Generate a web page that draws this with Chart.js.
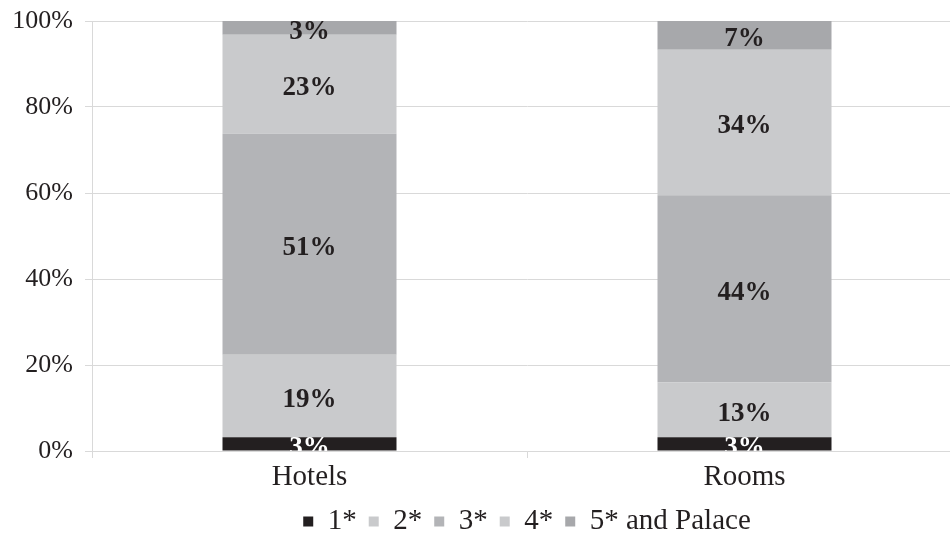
<!DOCTYPE html>
<html>
<head>
<meta charset="utf-8">
<script src="https://cdn.jsdelivr.net/npm/chart.js@4/dist/chart.umd.min.js"></script>
<style>
    html, body { margin: 0; padding: 0; background: #fff; overflow: hidden; }
    #wrap { width: 965px; height: 546px; }
</style>
</head>
<body>
<div id="wrap"><canvas id="chart" width="965" height="546"></canvas></div>
<script>
// Data
const categories = ['Hotels', 'Rooms'];
const seriesNames = ['1*', '2*', '3*', '4*', '5* and Palace'];
const oneStar = [3.2, 3.2];
const twoStar = [19.2, 12.8];
const threeStar = [51.4, 43.5];
const fourStar = [23.0, 33.8];
const fivePalace = [3.2, 6.7];
const yTicks = [0, 20, 40, 60, 80, 100];

const colors = ['#231f20', '#c9cacc', '#b3b4b7', '#c9cacc', '#a7a8ab'];
const labelColors = ['#ffffff', '#231f20', '#231f20', '#231f20', '#231f20'];
const seriesValues = [oneStar, twoStar, threeStar, fourStar, fivePalace];

const serif = "'Liberation Serif', 'Times New Roman', serif";

// Draws rounded percentages in the middle of each segment
const segmentLabels = {
    id: 'segmentLabels',
    afterDatasetsDraw(chart) {
        const ctx = chart.ctx;
        const area = chart.chartArea;
        ctx.save();
        ctx.beginPath();
        ctx.rect(area.left, area.top, area.right - area.left, area.bottom - area.top);
        ctx.clip();
        ctx.font = `bold 27px ${serif}`;
        ctx.textAlign = 'center';
        ctx.textBaseline = 'middle';
        chart.data.datasets.forEach((ds, i) => {
            chart.getDatasetMeta(i).data.forEach((bar, j) => {
                const mid = (bar.y + bar.base) / 2;
                ctx.fillStyle = labelColors[i];
                ctx.fillText(Math.round(ds.data[j]) + '%', bar.x, mid + 4);
            });
        });
        ctx.restore();
    }
};

new Chart(document.getElementById('chart'), {
    type: 'bar',
    data: {
        labels: categories,
        datasets: seriesNames.map((name, i) => ({
            label: name,
            data: seriesValues[i],
            backgroundColor: colors[i],
            borderWidth: 0,
            categoryPercentage: 1,
            barPercentage: 0.4
        }))
    },
    options: {
        responsive: false,
        animation: false,
        layout: { padding: { top: 21, left: 0, right: 3, bottom: 0 } },
        plugins: {
            legend: {
                position: 'bottom',
                fullSize: false, // centre it under the plot area, not the canvas
                labels: {
                    boxWidth: 10,
                    boxHeight: 10,
                    padding: 12,
                    color: '#231f20',
                    font: { family: serif, size: 29 }
                }
            },
            tooltip: { enabled: false }
        },
        scales: {
            x: {
                stacked: true,
                grid: { display: true, drawOnChartArea: false, drawTicks: true, tickLength: 7, color: '#d9d9d9' },
                border: { color: '#d9d9d9' },
                ticks: { color: '#231f20', padding: 2, font: { family: serif, size: 29 } },
                afterFit: (scale) => { scale.height = 44; }
            },
            y: {
                stacked: true,
                min: 0,
                max: 100,
                afterBuildTicks: (scale) => { scale.ticks = yTicks.map(v => ({ value: v })); },
                grid: { color: '#d9d9d9', tickLength: 7 },
                border: { color: '#d9d9d9' },
                ticks: {
                    color: '#231f20',
                    padding: 12,
                    font: { family: serif, size: 26 },
                    callback: (v) => v + '%'
                },
                afterFit: (scale) => {
                    scale.width = 92;
                    scale.paddingTop = 0;
                    scale.paddingBottom = 0;
                }
            }
        }
    },
    plugins: [segmentLabels]
});
</script>
</body>
</html>
